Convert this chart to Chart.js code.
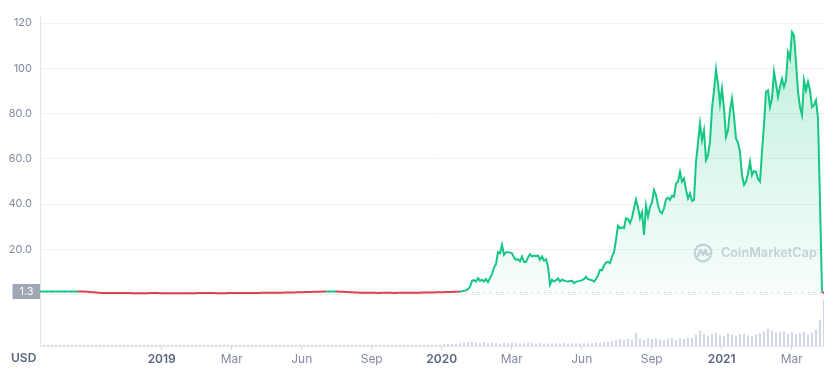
<!DOCTYPE html>
<html lang="pt-BR">
<head>
<meta charset="UTF-8">
<title>Preço</title>
<script src="https://cdn.jsdelivr.net/npm/chart.js@4.4.1/dist/chart.umd.min.js"></script>
<style>
  html, body { margin: 0; padding: 0; background: #fff; }
  .grafico-card { position: relative; width: 830px; height: 372px; }
</style>
</head>
<body>
<div class="grafico-card"><canvas id="graficoPreco" width="830" height="372"></canvas></div>
<script>
// preço, um ponto a cada ~2,6 dias
const precos = [
  1.35, 1.35, 1.35, 1.35, 1.34, 1.34, 1.34, 1.34, 1.33, 1.33, 1.33, 1.33, 1.32, 1.32, 1.32, 1.32,
  1.31, 1.31, 1.3, 1.3, 1.29, 1.28, 1.26, 1.24, 1.2,
  1.12, 1.02, 0.92, 0.84, 0.76, 0.7, 0.66,
  0.64, 0.62, 0.61, 0.6, 0.6, 0.59, 0.59, 0.6, 0.6, 0.61,
  0.61, 0.6, 0.6, 0.59, 0.58, 0.58, 0.57, 0.57, 0.56, 0.56,
  0.57, 0.57, 0.58, 0.59, 0.6, 0.6, 0.59, 0.59, 0.58, 0.57,
  0.56, 0.55, 0.55, 0.54, 0.55, 0.56, 0.56, 0.57, 0.58, 0.58,
  0.57, 0.57, 0.56, 0.56, 0.56, 0.57, 0.58, 0.59, 0.6, 0.6,
  0.61, 0.61, 0.6, 0.6, 0.59, 0.59, 0.58, 0.58, 0.57, 0.57,
  0.58, 0.58, 0.59, 0.6, 0.61, 0.62, 0.63, 0.64, 0.65, 0.65,
  0.64, 0.64, 0.63, 0.63, 0.64, 0.65, 0.66, 0.68, 0.69, 0.7,
  0.71, 0.72, 0.73, 0.74, 0.75, 0.76, 0.77, 0.78, 0.79, 0.8,
  0.82, 0.83, 0.85, 0.87, 0.88, 0.9, 0.92, 0.95, 0.97, 1.0,
  1.02, 1.05, 1.07, 1.1, 1.12, 1.15, 1.17, 1.2, 1.22, 1.25,
  1.28, 1.3, 1.32, 1.33, 1.33, 1.32, 1.3, 1.28, 1.24, 1.2, 1.15, 1.1, 1.05, 1.0, 0.95,
  0.9, 0.86, 0.82, 0.8, 0.78, 0.76, 0.74, 0.73, 0.72, 0.71,
  0.7, 0.7, 0.69, 0.69, 0.7, 0.7, 0.71, 0.72, 0.71, 0.7,
  0.69, 0.69, 0.7, 0.71, 0.72, 0.73, 0.74, 0.74, 0.75, 0.76,
  0.77, 0.78, 0.79, 0.8, 0.81, 0.82, 0.84, 0.85, 0.87, 0.88,
  0.9, 0.92, 0.94,
  0.96, 0.98, 1.0, 1.03, 1.06, 1.09, 1.12, 1.16,
  1.2, 1.25, 1.3, 1.4, 1.6, 1.9, 2.3, 3.5, 6.0, 6.3,
  5.7, 7.2, 6.0, 6.5, 5.7, 6.8, 5.4, 7.2, 9.0, 11.9,
  13.4, 18.7, 18.2, 21.9, 17.5, 18.7, 18.7, 18.5, 18.2, 16.3,
  15.3, 15.6, 14.6, 16.8, 14.3, 14.3, 16.3, 17.8, 16.8, 17.2,
  16.9, 17.2, 15.3, 16.8, 14.9, 15.6, 12.4, 4.3, 6.5, 5.7,
  6.3, 7.1, 5.7, 6.5, 6.2, 5.9, 5.7, 5.9, 6.0, 5.0,
  5.6, 5.9, 6.0, 6.3, 6.8, 7.8, 6.8, 6.5, 6.3, 5.7,
  6.8, 8.4, 10.9, 10.7, 12.8, 14.1, 14.4, 13.8, 16.9, 18.7,
  24.1, 30.4, 29.3, 29.7, 29.3, 33.7, 33.4, 31.5, 34.0, 38,
  42, 38.5, 33.7, 36.3, 26.3, 39.3, 34.4, 38.8, 40.7, 46.2,
  44.0, 39.6, 36.6, 35.9, 38.1, 42.1, 42.8, 41.8, 43.7, 43.2,
  49.1, 49.9, 54.3, 49.9, 51.3, 46.2, 42.5, 44.7, 41.3, 41.8,
  58.7, 66.8, 75.6, 68.2, 72.6, 59.4, 61.6, 67.5, 82.2, 90.3,
  99.5, 93.2, 84.4, 91.0, 82.2, 69.7, 72.6, 81.5, 86.6, 78.5,
  69.0, 67.2, 63.1, 52.8, 48.4, 49.9, 53.5, 58.7, 52.8, 54.6,
  54.3, 51.0, 49.9, 63.1, 74.9, 89.6, 90.3, 82.9, 86.6, 98.4,
  93.2, 87.4, 91.8, 95.4, 91.8, 94.7, 107.2, 104.3, 116.0, 114.6,
  102.8, 89.6, 82.9, 79.3, 94.7, 90.3, 94.0, 90.3, 82.9, 83.7,
  85.9, 77.8, 41.0, 1.3, 0.5
];

// volume em milhões de USD, um valor a cada dois pontos de preço
const volumes = [
  5, 4, 5, 6, 5, 4, 5, 5, 6, 5, 4, 5, 5, 4, 5, 6, 5, 5, 4, 5,
  5, 6, 5, 4, 5, 5, 5, 6, 5, 4, 5, 5, 4, 5, 6, 5, 5, 4, 5, 5,
  6, 5, 4, 5, 5, 5, 6, 5, 4, 5, 5, 4, 5, 6, 5, 5, 4, 5, 5, 6,
  5, 4, 5, 5, 5, 6, 5, 4, 5, 5, 4, 5, 6, 5, 5, 4, 5, 5, 6, 5,
  4, 5, 5, 5, 6, 5, 4, 5, 5, 4, 5, 6, 5, 5, 4, 5, 5, 6, 5, 4,
  6, 7, 8, 9,
  10, 12, 15, 18, 20, 16, 14, 18, 12, 15, 12, 10, 14, 12, 16, 13, 11, 12, 15, 14,
  10, 12, 9, 11, 10, 12, 11, 13, 10, 12, 11, 10, 13, 12, 11, 15, 14, 18, 20, 22,
  28, 32, 30, 35, 30, 65, 34, 30, 38, 33, 36, 30, 28, 34, 38, 30, 35, 32, 40, 38,
  55, 75, 60, 50, 58, 65, 52, 48, 62, 55, 50, 58, 60, 52, 48, 55, 62, 70, 85,
  75, 65, 70, 72, 60, 68, 58, 62, 70, 55, 65, 80,
  130, 230
];
const passoVolume = 2;

const rotulosEixoX = ["2019", "Mar", "Jun", "Sep", "2020", "Mar", "Jun", "Sep", "2021", "Mar"];
const anos = ["2019", "2020", "2021"];
const primeiraMarcaX = 60.85;
const passoMarcaX = 35;

const valoresEixoY = [0, 20, 40, 60, 80, 100, 120];
const rotulosEixoY = ["", "20.0", "40.0", "60.0", "80.0", "100", "120"];

const precoInicial = 1.3;
const rotuloPrecoInicial = "1.3";
const moeda = "USD";
const marcaDagua = "CoinMarketCap";

const VERDE = "#16c784";
const VERMELHO = "#d9434a";
const CINZA = "#808a9d";
const CINZA_ESCURO = "#58667e";
const CINZA_MARCA = "#cdd2dc";
const FONTE = "Inter, 'Noto Sans', sans-serif";

function gradienteVerde(contexto) {
  const { ctx, chartArea, scales } = contexto.chart;
  if (!chartArea) return "rgba(22, 199, 132, 0.1)";

  const topo = scales.y.getPixelForValue(120);
  const base = scales.y.getPixelForValue(precoInicial);
  const gradiente = ctx.createLinearGradient(0, topo, 0, base);
  gradiente.addColorStop(0, "rgba(22, 199, 132, 0.28)");
  gradiente.addColorStop(1, "rgba(22, 199, 132, 0.03)");
  return gradiente;
}

function desenharMarcaDagua(ctx, area) {
  const cx = area.right - 121;
  const cy = area.top + 238;

  ctx.save();
  ctx.strokeStyle = CINZA_MARCA;
  ctx.lineWidth = 2.2;
  ctx.lineCap = "round";
  ctx.lineJoin = "round";

  ctx.beginPath();
  ctx.arc(cx, cy, 8.3, 0.15 * Math.PI, 2.05 * Math.PI);
  ctx.stroke();

  ctx.beginPath();
  ctx.moveTo(cx - 5, cy + 3);
  ctx.lineTo(cx - 2.5, cy - 3);
  ctx.lineTo(cx, cy + 2);
  ctx.lineTo(cx + 2.5, cy - 3);
  ctx.lineTo(cx + 4, cy + 2);
  ctx.lineTo(cx + 7, cy + 1);
  ctx.stroke();

  ctx.font = `600 15px ${FONTE}`;
  const largura = ctx.measureText(marcaDagua).width;
  const tamanho = 15 * 96 / largura;
  ctx.font = `600 ${tamanho}px ${FONTE}`;
  ctx.fillStyle = CINZA_MARCA;
  ctx.textAlign = "left";
  ctx.textBaseline = "middle";
  ctx.fillText(marcaDagua, cx + 18, cy + 0.5);
  ctx.restore();
}

const pluginDecoracao = {
  id: "decoracao",
  beforeDatasetsDraw(chart) {
    const { ctx, chartArea, scales } = chart;
    desenharMarcaDagua(ctx, chartArea);

    const yBase = Math.round(scales.y.getPixelForValue(precoInicial)) + 0.5;
    ctx.save();
    ctx.strokeStyle = "#a9b1c1";
    ctx.lineWidth = 1;
    ctx.setLineDash([1, 5]);
    ctx.beginPath();
    ctx.moveTo(chartArea.left, yBase);
    ctx.lineTo(chartArea.right, yBase);
    ctx.stroke();
    ctx.restore();
  },
  afterDraw(chart) {
    const { ctx, chartArea, scales } = chart;
    const yBase = scales.y.getPixelForValue(precoInicial);

    ctx.save();
    ctx.fillStyle = "#a1a7b5";
    ctx.fillRect(chartArea.left - 27.5, yBase - 7.5, 27.5, 15);
    ctx.fillStyle = "#ffffff";
    ctx.font = `11px ${FONTE}`;
    ctx.textAlign = "center";
    ctx.textBaseline = "middle";
    ctx.fillText(rotuloPrecoInicial, chartArea.left - 13.5, yBase + 0.5);

    ctx.fillStyle = CINZA_ESCURO;
    ctx.font = `600 12px ${FONTE}`;
    ctx.textAlign = "left";
    ctx.fillText(moeda, 11, chartArea.bottom + 12);
    ctx.restore();
  }
};

function criarGraficoPreco() {
  const canvas = document.getElementById("graficoPreco");

  return new Chart(canvas, {
    data: {
      datasets: [
        {
          type: "line",
          label: "Preço",
          data: precos.map((valor, i) => ({ x: i, y: valor })),
          yAxisID: "y",
          borderColor: VERDE,
          borderWidth: 2,
          pointRadius: 0,
          tension: 0,
          fill: { value: precoInicial },
          backgroundColor: gradienteVerde,
          segment: {
            borderColor: c => (c.p0.parsed.y + c.p1.parsed.y) / 2 < precoInicial ? VERMELHO : VERDE
          },
          order: 1
        },
        {
          type: "bar",
          label: "Volume",
          data: volumes.map((valor, i) => ({ x: i * passoVolume, y: valor })),
          yAxisID: "yVolume",
          backgroundColor: "#d3d9e4",
          barThickness: 1.5,
          order: 2
        }
      ]
    },
    options: {
      responsive: false,
      animation: false,
      devicePixelRatio: 1,
      layout: {
        padding: { left: 0, right: 6, top: 15, bottom: 0 }
      },
      plugins: {
        legend: { display: false },
        tooltip: { enabled: false }
      },
      scales: {
        x: {
          type: "linear",
          offset: false,
          min: 0,
          max: precos.length - 1,
          afterBuildTicks: escala => {
            escala.ticks = rotulosEixoX.map((_, k) => ({ value: primeiraMarcaX + k * passoMarcaX }));
          },
          afterFit: escala => { escala.height = 26; },
          ticks: {
            autoSkip: false,
            maxRotation: 0,
            padding: 2,
            callback: (valor, indice) => rotulosEixoX[indice],
            color: c => anos.includes(rotulosEixoX[c.index]) ? CINZA_ESCURO : CINZA,
            font: c => ({
              family: FONTE,
              size: 12,
              weight: anos.includes(rotulosEixoX[c.index]) ? "600" : "400"
            })
          },
          grid: {
            offset: false,
            drawOnChartArea: false,
            drawTicks: true,
            tickLength: 4,
            color: "#cfd6e4"
          },
          border: {
            display: true,
            color: "#dfe3ea",
            dash: [2, 2]
          }
        },
        y: {
          position: "left",
          min: -22.8,
          max: 123.6,
          afterBuildTicks: escala => {
            escala.ticks = valoresEixoY.map(valor => ({ value: valor }));
          },
          afterFit: escala => { escala.width = 40; },
          ticks: {
            padding: 8,
            color: CINZA,
            font: { family: FONTE, size: 11 },
            callback: (valor, indice) => rotulosEixoY[indice]
          },
          grid: {
            color: "#eff2f5",
            drawTicks: false
          },
          border: {
            display: true,
            color: "#e3e7ee"
          }
        },
        yVolume: {
          display: false,
          min: 0,
          max: 1655
        }
      }
    },
    plugins: [pluginDecoracao]
  });
}

document.addEventListener("DOMContentLoaded", criarGraficoPreco);
</script>
</body>
</html>
